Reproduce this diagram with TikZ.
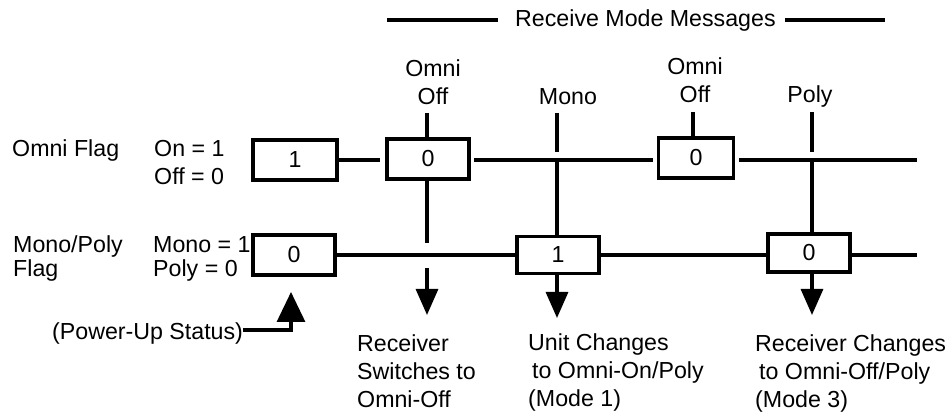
\documentclass[tikz,border=0pt]{standalone}
\usepackage{fontspec}
\setmainfont{Liberation Sans}
\usetikzlibrary{arrows.meta}
\begin{document}
\begin{tikzpicture}[x=1pt,y=-1pt,
  every node/.style={font=\fontsize{23.2}{28}\selectfont, inner sep=0pt},
  lbl/.style={align=left, anchor=base west},
  clbl/.style={align=center, anchor=base},
  flag/.style={draw, line width=3.3pt, minimum width=82pt, minimum height=40pt},
  wire/.style={line width=3.2pt},
  arr/.style={wire, -{Triangle[width=22pt,length=26pt]}},
]
\useasboundingbox (0,0) rectangle (951,419);

% header
\node[anchor=base west] (hdr) at (515,27) {Receive Mode Messages};
\coordinate (hl1) at (387,20); \coordinate (hl2) at (498,20);
\coordinate (hr1) at (785,20); \coordinate (hr2) at (885,20);
\draw[wire] (hl1) -- (hl2);
\draw[wire] (hr1) -- (hr2);

% left labels (base anchor = baseline of the last line)
\node[lbl] (omniflag) at (12,157) {Omni Flag};
\node[lbl] (onoff) at (154,185) {On = 1\\Off = 0};
\node[lbl, font=\fontsize{23.2}{24.5}\selectfont] (mpflag) at (13,277) {Mono/Poly\\Flag};
\node[lbl, font=\fontsize{23.2}{24.5}\selectfont] (mpval) at (153,277) {Mono = 1\\Poly = 0};

% boxes
\node[flag, minimum width=84pt] (b1) at (295,160) {1};
\node[flag] (boffa) at (428,159) {0};
\node[flag, minimum width=75pt] (boffb) at (696,158) {0};
\node[flag] (b0) at (294,255) {0};
\node[flag, minimum height=37pt] (bmono) at (558,255) {1};
\node[flag, minimum height=38pt] (bpoly) at (809,253) {0};

% omni flag row
\coordinate (ga) at (380,160);
\coordinate (gb) at (474,160);
\coordinate (gc) at (653,160);
\coordinate (gd) at (739,160);
\coordinate (ge) at (917,160);
\draw[wire] (b1.east |- ga) -- (ga);
\draw[wire] (gb) -- (gc);
\draw[wire] (gd) -- (ge);

% mono/poly row
\coordinate (he) at (917,255);
\draw[wire] (b0.east) -- (bmono.west |- b0.east);
\draw[wire] (bmono.east |- b0.east) -- (bpoly.west |- b0.east);
\draw[wire] (bpoly.east |- b0.east) -- (he);

% message labels
\node[clbl] (lom1) at (433,105) {Omni\\Off};
\node[clbl] (lmono) at (568,105) {Mono};
\node[clbl] (lom2) at (695,103) {Omni\\Off};
\node[clbl] (lpoly) at (810,103) {Poly};

% omni off 1
\coordinate (v1t) at (427,113);
\coordinate (v1b) at (427,243);
\coordinate (a1s) at (427,268);
\coordinate (a1e) at (427,315);
\draw[wire] (v1t) -- (v1t |- boffa.north);
\draw[wire] (v1b |- boffa.south) -- (v1b);
\draw[arr] (a1s) -- (a1e);

% mono
\coordinate (vmt) at (557,113);
\coordinate (vmm) at (557,152);
\coordinate (a2e) at (557,318);
\draw[wire] (vmt) -- (vmm);
\draw[wire] (vmt |- gb) -- (vmt |- bmono.north);
\draw[arr] (vmt |- bmono.south) -- (a2e);

% omni off 2
\coordinate (v2t) at (693,112);
\draw[wire] (v2t) -- (v2t |- boffb.north);

% poly
\coordinate (vpt) at (812,112);
\coordinate (vpm) at (812,152);
\coordinate (a3e) at (812,315);
\draw[wire] (vpt) -- (vpm);
\draw[wire] (vpt |- gd) -- (vpt |- bpoly.north);
\draw[arr] (vpt |- bpoly.south) -- (a3e);

% power-up
\node[anchor=base west] (pwr) at (52,340) {(Power-Up Status)};
\coordinate (pc) at (291,330);
\coordinate (pt) at (291,292);
\draw[wire, -{Triangle[width=28pt,length=30pt]}] (pwr.east |- pc) -- (pc) -- (pt);

% result labels
\node[lbl] (txa) at (357,408) {Receiver\\Switches to\\Omni-Off};
\node[lbl] (txb) at (528,407) {Unit Changes\\\hspace*{4pt}to Omni-On/Poly\\(Mode 1)};
\node[lbl] (txc) at (755,408) {Receiver Changes\\\hspace*{4pt}to Omni-Off/Poly\\(Mode 3)};
\end{tikzpicture}
\end{document}
